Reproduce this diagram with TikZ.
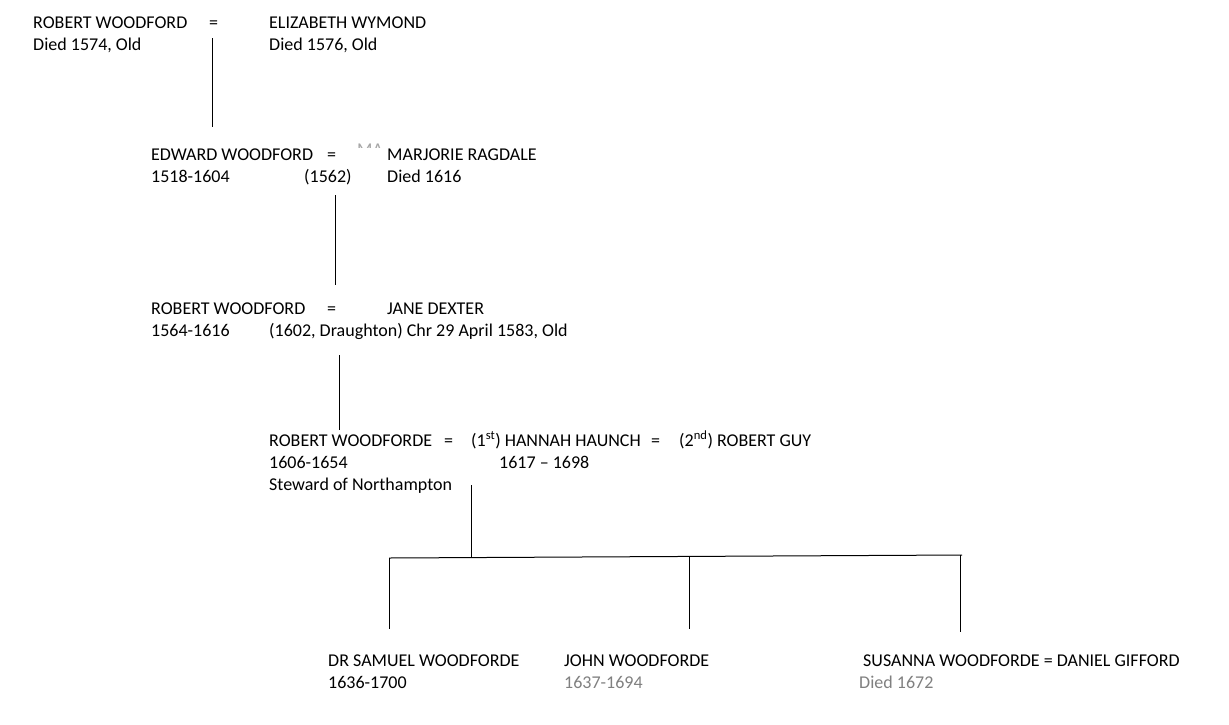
\documentclass[tikz,border=0pt]{standalone}
\usepackage{fontspec}
\setmainfont{Carlito}
\definecolor{greytext}{RGB}{128,128,128}
\begin{document}
\begin{tikzpicture}[x=1pt,y=-1pt,
  txt/.style={anchor=base west,inner sep=0pt,font=\fontsize{18}{22}\selectfont},
  faded/.style={txt,text=greytext},
  link/.style={draw=black,line width=1pt}]
\useasboundingbox[fill=white] (0,0) rectangle (1229,724);
% generation 1
\node[txt] (rw1) at (33,28) {ROBERT WOODFORD};
\node[txt] (eq1) at (209,28) {=};
\node[txt] (ew) at (269,28) {ELIZABETH WYMOND};
\node[txt] (rw1d) at (33,50) {Died 1574, Old};
\node[txt] (ewd) at (269,50) {Died 1576, Old};
\coordinate (g1a) at (212,38);
\coordinate (g1b) at (212,127);
\draw[link] (g1a) -- (g1b);
% generation 2
\node[txt] (ed) at (151,160) {EDWARD WOODFORD};
\node[txt] (eq2) at (327,160) {=};
\node[txt] (mr) at (387,160) {MARJORIE RAGDALE};
\node[txt] (edd) at (151,182) {1518-1604};
\node[txt] (m2) at (304,182) {(1562)};
\node[txt] (mrd) at (387,182) {Died 1616};
\begin{scope}
\clip (355,139) rectangle (385,147.5);
\node[txt,text=gray!70] (ma) at (357,155) {MA};
\end{scope}
\coordinate (g2a) at (335,195);
\coordinate (g2b) at (335,285);
\draw[link] (g2a) -- (g2b);
% generation 3
\node[txt] (rw3) at (151,314) {ROBERT WOODFORD};
\node[txt] (eq3) at (327,314) {=};
\node[txt] (jd) at (387,314) {JANE DEXTER};
\node[txt] (rw3d) at (151,336) {1564-1616};
\node[txt] (jdd) at (269,336) {(1602, Draughton) Chr 29 April 1583, Old};
\coordinate (g3a) at (339,355);
\coordinate (g3b) at (339,430);
\draw[link] (g3a) -- (g3b);
% generation 4
\node[txt] (rw4) at (269,446) {ROBERT WOODFORDE};
\node[txt] (eq4) at (444,446) {=};
\node[txt] (hh) at (471,446) {(1\textsuperscript{st}) HANNAH HAUNCH};
\node[txt] (eq5) at (651,446) {=};
\node[txt] (rg) at (679,446) {(2\textsuperscript{nd}) ROBERT GUY};
\node[txt] (rw4d) at (269,468) {1606-1654};
\node[txt] (hhd) at (499,468) {1617 -- 1698};
\node[txt] (rw4s) at (269,490) {Steward of Northampton};
\coordinate (g4a) at (471,485);
\coordinate (bar) at (471,557);
\draw[link] (g4a) -- (bar);
% sibling bar
\coordinate (b1) at (389,558);
\coordinate (b2) at (689,556);
\coordinate (b3) at (962,555);
\draw[link] (b1) -- (b3);
\coordinate (c1) at (389,629);
\coordinate (c2) at (689,629);
\coordinate (c3) at (960,632);
\draw[link] (b1) -- (c1);
\draw[link] (b2) -- (c2);
\draw[link] (960,555) -- (c3);
% generation 5
\node[txt] (sw) at (328,666) {DR SAMUEL WOODFORDE};
\node[txt] (swd) at (328,688) {1636-1700};
\node[txt] (jw) at (564,666) {JOHN WOODFORDE};
\node[faded] (jwd) at (564,688) {1637-1694};
\node[txt] (su) at (863,666) {SUSANNA WOODFORDE = DANIEL GIFFORD};
\node[faded] (sud) at (859,688) {Died 1672};
\end{tikzpicture}
\end{document}
